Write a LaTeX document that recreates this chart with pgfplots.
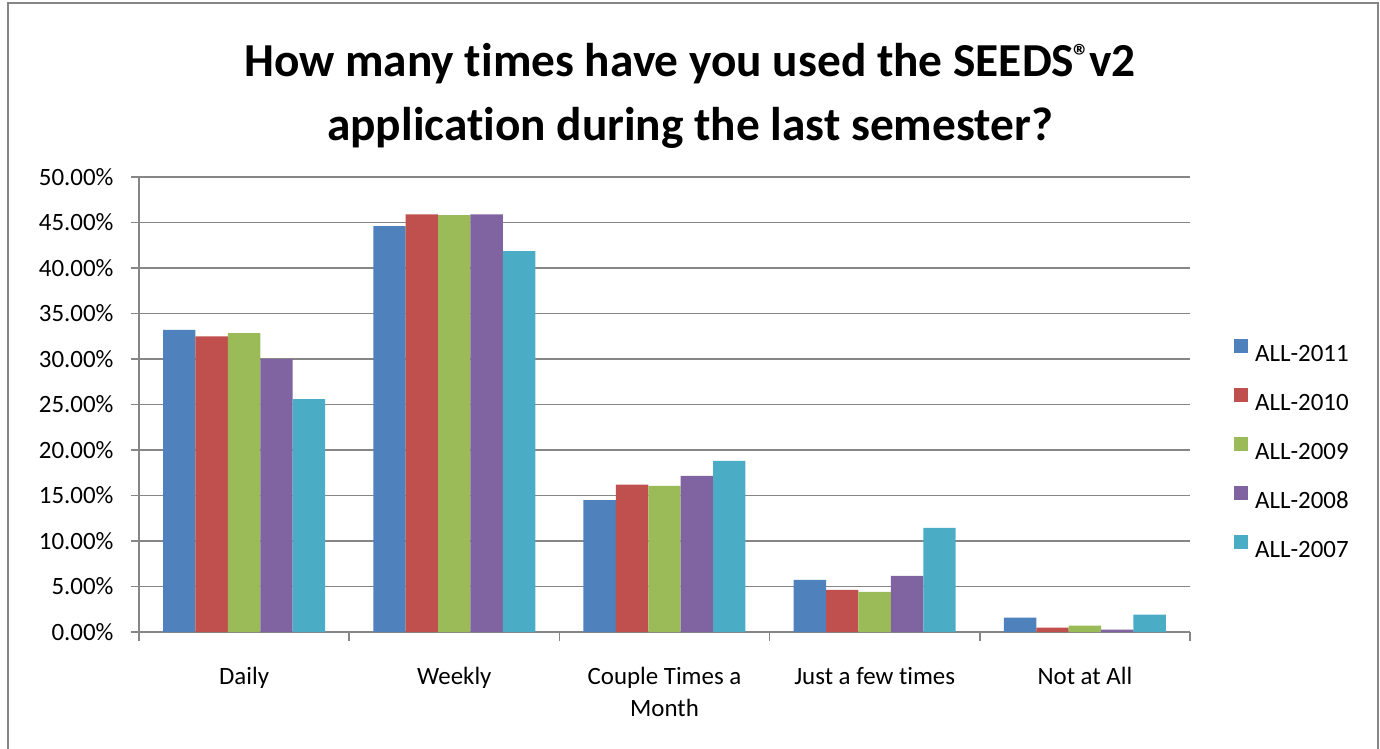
\documentclass[border=0pt]{standalone}
\usepackage{fontspec}
\setmainfont{Carlito}[Ligatures=NoCommon]
\usepackage{pgfplots}
\pgfplotsset{compat=1.18}
\definecolor{c1}{HTML}{4F81BD}
\definecolor{c2}{HTML}{C0504D}
\definecolor{c3}{HTML}{9BBB59}
\definecolor{c4}{HTML}{8064A2}
\definecolor{c5}{HTML}{4BACC6}
\definecolor{gridgray}{HTML}{868686}
\begin{document}
\begin{tikzpicture}
\path[use as bounding box] (0bp,0bp) rectangle (1380bp,-749bp);
\draw[gridgray,line width=2bp] (8bp,-749bp) -- (8bp,-3bp) -- (1378bp,-3bp) -- (1378bp,-749bp);
\node[font=\bfseries\fontsize{47.5}{56}\selectfont,anchor=base] at (690bp,-76bp) {How many times have you used the SEEDS\kern-1bp\textsuperscript{®}\kern-1bp v2};
\node[font=\bfseries\fontsize{47.5}{56}\selectfont,anchor=base] at (690bp,-140bp) {application during the last semester?};
\begin{axis}[
  at={(139bp,-632bp)}, anchor=south west,
  scale only axis, width=1051bp, height=455bp,
  xmin=-0.5, xmax=4.5, ymin=0, ymax=50,
  ybar=0pt, bar width=32.4bp,
  axis lines=left,
  axis line style={-, gridgray, line width=1.6bp},
  xtick={0,...,4},
  xticklabels={Daily,Weekly,{Couple Times a\\Month},Just a few times,Not at All},
  major x tick style={draw=none},
  minor xtick={-0.5,0.5,...,4.5},
  minor tick length=9bp,
  major tick length=8bp,
  tick align=outside,
  tick style={gridgray, line width=1.6bp},
  ytick={0,5,...,50},
  yticklabels={0.00\%,5.00\%,10.00\%,15.00\%,20.00\%,25.00\%,30.00\%,35.00\%,40.00\%,45.00\%,50.00\%},
  ymajorgrids, grid style={gridgray, line width=1.6bp},
  yticklabel style={font=\fontsize{25}{30}\selectfont, xshift=-14bp},
  xticklabel style={font=\fontsize{25}{32}\selectfont, align=center, yshift=-24bp},
  legend style={draw=none, fill=none, at={(1.039,0.404)}, anchor=west,
    font=\fontsize{25}{30}\selectfont,
    nodes={inner sep=0pt, text height=16bp, text depth=0bp},
    column sep=7bp, row sep=27bp},
  legend image code/.code={\fill[#1,draw=none] (0bp,0bp) rectangle (14bp,14bp);},
]
\addplot[fill=c1,draw=none] coordinates {(0,33.2) (1,44.6) (2,14.5) (3,5.74) (4,1.57)};
\addplot[fill=c2,draw=none] coordinates {(0,32.5) (1,45.9) (2,16.2) (3,4.64) (4,0.47)};
\addplot[fill=c3,draw=none] coordinates {(0,32.85) (1,45.8) (2,16.05) (3,4.42) (4,0.69)};
\addplot[fill=c4,draw=none] coordinates {(0,30.0) (1,45.9) (2,17.15) (3,6.18) (4,0.25)};
\addplot[fill=c5,draw=none] coordinates {(0,25.6) (1,41.85) (2,18.8) (3,11.45) (4,1.9)};
\legend{ALL-2011,ALL-2010,ALL-2009,ALL-2008,ALL-2007}
\end{axis}
\end{tikzpicture}
\end{document}
